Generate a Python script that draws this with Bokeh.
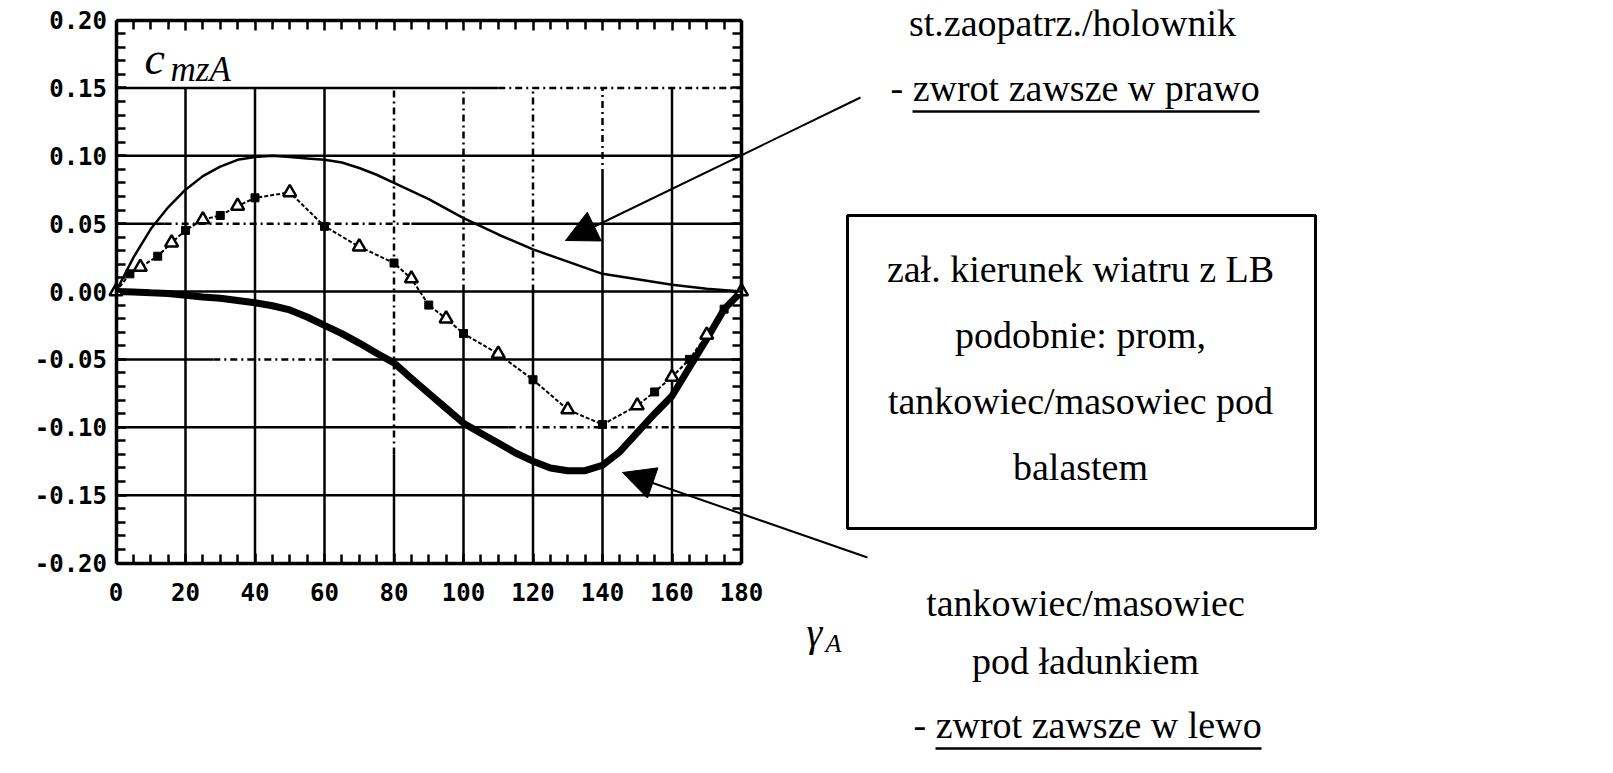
import numpy as np
from bokeh.plotting import figure
from bokeh.models import (Range1d, LinearAxis, FixedTicker, CustomJSTickFormatter,
                          Label, Arrow, NormalHead)
from bokeh.embed import file_html
from bokeh.resources import INLINE

# ---------------------------------------------------------------------------
# Yaw-moment coefficient c_mzA versus apparent wind angle gamma_A [deg]
# ---------------------------------------------------------------------------
# supply ship / tug (thin line)
gamma_supply = [0, 5, 10, 15, 20, 25, 30, 35, 40, 45, 50, 55, 60, 65, 70, 75, 80,
                90, 100, 110, 120, 130, 140, 150, 160, 170, 180]
cmz_supply = [0.000, 0.025, 0.046, 0.062, 0.075, 0.085, 0.092, 0.097, 0.099, 0.100,
              0.099, 0.098, 0.097, 0.095, 0.091, 0.086, 0.080, 0.068, 0.054, 0.042,
              0.031, 0.022, 0.013, 0.009, 0.005, 0.002, 0.000]

# tanker / bulk carrier, loaded (thick line)
gamma_laden = list(range(0, 181, 5))
cmz_laden = [0.000, -0.0004, -0.001, -0.0015, -0.0027, -0.004, -0.005, -0.0066, -0.0083,
             -0.0105, -0.0136, -0.0188, -0.025, -0.031, -0.038, -0.0455, -0.0526, -0.064,
             -0.075, -0.086, -0.097, -0.1044, -0.1116, -0.119, -0.125, -0.130, -0.132,
             -0.132, -0.128, -0.118, -0.104, -0.090, -0.077, -0.056, -0.035, -0.013, 0.000]

# tanker / bulk carrier in ballast, ferry (measured points, dotted line)
gamma_ballast = [0, 4, 7, 12, 16, 20, 25, 30, 35, 40, 50, 60, 70, 80, 85, 90, 95, 100,
                 110, 120, 130, 140, 150, 155, 160, 165, 170, 175, 180]
cmz_ballast = [0.000, 0.013, 0.018, 0.026, 0.036, 0.045, 0.053, 0.056, 0.063, 0.069,
               0.073, 0.048, 0.033, 0.021, 0.0095, -0.010, -0.020, -0.031, -0.046, -0.065,
               -0.087, -0.098, -0.084, -0.074, -0.063, -0.050, -0.032, -0.013, 0.000]

x_ticks = [0, 20, 40, 60, 80, 100, 120, 140, 160, 180]
x_tick_labels = ["0", "20", "40", "60", "80", "100", "120", "140", "160", "180"]
y_ticks = [-0.2, -0.15, -0.1, -0.05, 0.0, 0.05, 0.1, 0.15, 0.2]
y_tick_labels = ["-0.20", "-0.15", "-0.10", "-0.05", "0.00", "0.05", "0.10", "0.15", "0.20"]

# ---------------------------------------------------------------------------
# Page geometry: the frame fills the page, the chart box is placed inside it
# ---------------------------------------------------------------------------
W, H = 1613, 773
BOX_L, BOX_R, BOX_T, BOX_B = 115.5, 741.0, 19.5, 562.5
X0, X1, Y0, Y1 = 0.0, 180.0, -0.2, 0.2
kx = (BOX_R - BOX_L) / (X1 - X0)
ky = (BOX_B - BOX_T) / (Y1 - Y0)
TEXT_LIFT = 13  # label anchor correction so that texts sit on the wanted baseline


def px(xp):
    """page pixel column -> data x"""
    return X0 + (xp - BOX_L) / kx


def py(yp):
    """page pixel row -> data y"""
    return Y1 - (yp - BOX_T) / ky


p = figure(width=W, height=H,
           x_range=Range1d(px(0), px(W)), y_range=Range1d(py(H), py(0)),
           min_border=0, toolbar_location=None, output_backend="svg",
           x_axis_location=None, y_axis_location=None, title=None,
           background_fill_color="white", border_fill_color="white",
           outline_line_color=None)
p.grid.visible = False

# --- grid (vertical lines stop at 0.15, below the coefficient label) -------
dash_v = {80: [(-0.12, 0.15)], 100: [(0.0, 0.15)], 120: [(0.0, 0.15)], 140: [(0.085, 0.15)]}
dash_h = {0.15: [(110, 180)], 0.05: [(14, 85)], -0.05: [(28, 63)], -0.1: [(113, 162)]}

solid = dict(x0=[], y0=[], x1=[], y1=[])
dashed = dict(x0=[], y0=[], x1=[], y1=[])


def put(store, fixed, s, e, vertical):
    if e <= s:
        return
    if vertical:
        store["x0"].append(fixed); store["x1"].append(fixed)
        store["y0"].append(s); store["y1"].append(e)
    else:
        store["y0"].append(fixed); store["y1"].append(fixed)
        store["x0"].append(s); store["x1"].append(e)


def add_gridline(fixed, lo, hi, spans, vertical):
    cur = lo
    for a, b in sorted(spans):
        put(solid, fixed, cur, a, vertical)
        put(dashed, fixed, a, b, vertical)
        cur = b
    put(solid, fixed, cur, hi, vertical)


for xv in x_ticks[1:-1]:
    add_gridline(xv, Y0, 0.15, dash_v.get(xv, []), True)
for yv in y_ticks[1:-1]:
    add_gridline(yv, X0, X1, dash_h.get(yv, []), False)

p.segment(**solid, line_color="black", line_width=2.5)
p.segment(**dashed, line_color="black", line_width=2.5, line_dash="7 4 2 4")

# --- curves ---------------------------------------------------------------
p.line(gamma_supply, cmz_supply, line_color="black", line_width=2.5)
p.line(gamma_laden, cmz_laden, line_color="black", line_width=7, line_cap="round")
p.line(gamma_ballast, cmz_ballast, line_color="black", line_width=2, line_dash="4 2")
p.scatter(gamma_ballast[0::2], cmz_ballast[0::2], marker="triangle", size=13,
          fill_color="white", line_color="black", line_width=2.5)
p.scatter(gamma_ballast[1::2], cmz_ballast[1::2], marker="square", size=8,
          fill_color="black", line_color="black")

# --- frame axes ------------------------------------------------------------
x_minor = [v for v in range(0, 181, 5) if v % 20]
y_minor = [round(v, 2) for v in np.arange(-0.2, 0.2001, 0.01)
           if round(v * 100) % 5]


def frame_axis(side, loc, ticks, minor, bounds, labels=None, standoff=8):
    ax = LinearAxis(fixed_location=loc, bounds=bounds,
                    ticker=FixedTicker(ticks=ticks, minor_ticks=minor),
                    axis_line_color="black", axis_line_width=3.5,
                    major_tick_in=10, major_tick_out=0,
                    minor_tick_in=9, minor_tick_out=0,
                    major_tick_line_color="black", major_tick_line_width=2.5,
                    minor_tick_line_color="black", minor_tick_line_width=2.5,
                    major_label_standoff=standoff)
    if labels is None:
        ax.formatter = CustomJSTickFormatter(code="return ''")
    else:
        ax.major_label_overrides = dict(zip(ticks, labels))
        ax.major_label_text_font = "DejaVu Sans Mono"
        ax.major_label_text_font_style = "bold"
        ax.major_label_text_font_size = "24px"
        ax.major_label_text_color = "black"
    p.add_layout(ax, side)


frame_axis("left", X0, y_ticks, y_minor, (Y0, Y1), y_tick_labels, standoff=9)
frame_axis("below", Y0, x_ticks, x_minor, (X0, X1), x_tick_labels, standoff=20)
frame_axis("right", X1, y_ticks, y_minor, (Y0, Y1))
frame_axis("above", Y1, x_ticks, x_minor, (X0, X1))

# --- texts -----------------------------------------------------------------
SERIF = "Liberation Serif"


def note(xp, yp, text, size="38px", align="center", style="normal"):
    p.add_layout(Label(x=px(xp), y=py(yp - TEXT_LIFT), text=text, text_font=SERIF,
                       text_font_size=size, text_font_style=style, text_align=align,
                       text_baseline="alphabetic", text_color="black"))


# axis symbols
note(144, 71, "c", size="46px", align="left", style="italic")
note(170, 82, "mzA", size="35px", align="left", style="italic")
note(806, 645, "γ", size="40px", align="left", style="italic")
note(825, 656, "A", size="26px", align="left", style="italic")

note(1072, 35, "st.zaopatrz./holownik")
note(890, 100, "- zwrot zawsze w prawo", align="left")

note(1080, 281, "zał. kierunek wiatru z LB")
note(1080, 347, "podobnie: prom,")
note(1080, 413, "tankowiec/masowiec pod")
note(1080, 479, "balastem")

note(1085, 615, "tankowiec/masowiec")
note(1085, 673, "pod ładunkiem")
note(913, 737, "- zwrot zawsze w lewo", align="left")

# underlines
p.segment(x0=[px(912), px(935)], y0=[py(111), py(748)],
          x1=[px(1259), px(1261)], y1=[py(111), py(748)],
          line_color="black", line_width=2.5)

# text frame
p.quad(left=[px(847)], right=[px(1315)], top=[py(215)], bottom=[py(528)],
       fill_color=None, line_color="black", line_width=3)

# pointer arrows
for (xs, ys, xe, ye) in [(860, 97, 565, 240), (867, 557, 622, 472)]:
    p.add_layout(Arrow(end=NormalHead(size=32, fill_color="black", line_color="black",
                                      line_width=1),
                       x_start=px(xs), y_start=py(ys), x_end=px(xe), y_end=py(ye),
                       line_color="black", line_width=2))

open("out.html", "w").write(file_html(p, INLINE))
